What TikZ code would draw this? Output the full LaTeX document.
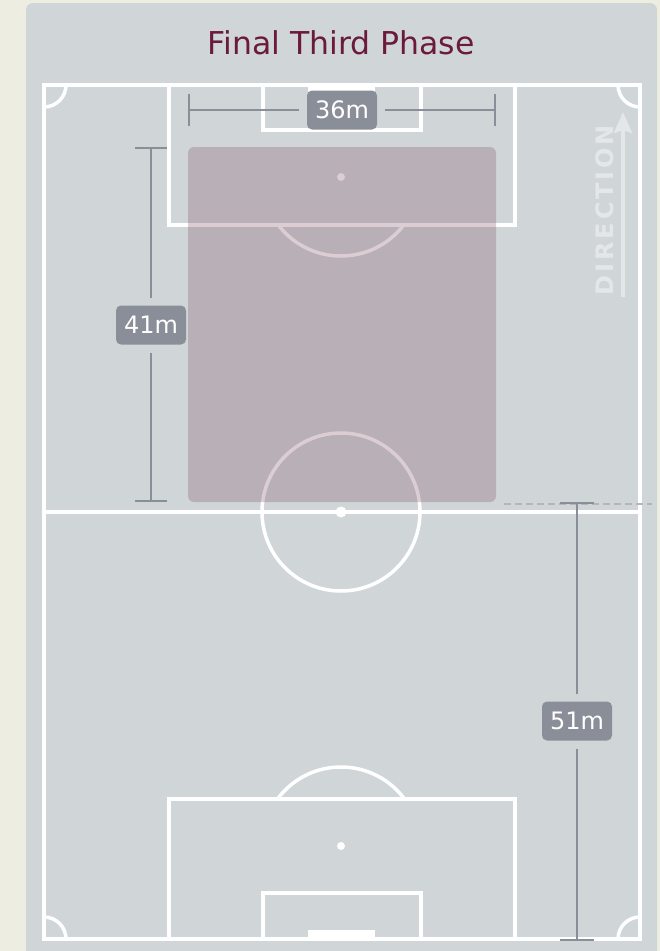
\documentclass[tikz,border=0pt]{standalone}
\usepackage{fontspec}
\setmainfont{DejaVu Sans}
\newfontfamily\dirfont[LetterSpace=12]{DejaVu Sans Bold}
\usetikzlibrary{arrows.meta}
\definecolor{cream}{RGB}{237,237,226}
\definecolor{panel}{RGB}{208,214,215}
\definecolor{titlecol}{RGB}{107,26,62}
\definecolor{dimgrey}{RGB}{138,142,152}
\definecolor{dashgrey}{RGB}{178,182,186}
\definecolor{shadecol}{RGB}{120,64,88}
\definecolor{dirwhite}{RGB}{228,231,232}
\begin{document}
\begin{tikzpicture}[x=1pt,y=-1pt,
  pitch/.style={draw=white,line width=3.5pt},
  dimline/.style={draw=dimgrey,line width=1.5pt},
  dimlabel/.style={fill=dimgrey,rounded corners=5pt,text=white,minimum width=70pt,minimum height=39pt,inner sep=0pt,outer sep=8pt,font=\fontsize{24}{26}\selectfont}]
\fill[cream] (0,0) rectangle (660,951);
\useasboundingbox (0,0) rectangle (660,951);
\fill[panel,rounded corners=7pt] (26,3) rectangle (657,990);
% pitch
\draw[pitch] (44,85) rectangle (640,939);
\draw[pitch] (44,512) -- (640,512);
\draw[pitch] (341,512) circle (79);
\fill[white] (341,512) circle (5.5);
\draw[pitch] (169,85) rectangle (515,225);
\draw[pitch] (263,85) rectangle (421,130);
\fill[white] (341,177) circle (4);
\fill[white] (308,85) rectangle (375,92);
\draw[pitch] (169,799) rectangle (515,939);
\draw[pitch] (263,893) rectangle (421,939);
\fill[white] (341,846) circle (4);
\fill[white] (308,930) rectangle (375,939);
\begin{scope}
  \clip (0,226) rectangle (660,400);
  \draw[pitch] (341,177) circle (79);
\end{scope}
\begin{scope}
  \clip (0,600) rectangle (660,798);
  \draw[pitch] (341,846) circle (79);
\end{scope}
\begin{scope}
  \clip (44,85) rectangle (640,939);
  \foreach \cx/\cy in {44/85,640/85,44/939,640/939}
    \draw[pitch] (\cx,\cy) circle (22);
\end{scope}
% shaded zone
\fill[shadecol,opacity=0.26,rounded corners=6pt] (188,147) rectangle (496,502);
% dashed reference line
\draw[dashgrey,line width=1.5pt,dash pattern=on 7pt off 4pt] (504,504) -- (652,504);
% width 36m
\node[dimlabel] (w) at (342,110) {36m};
\coordinate (wl) at (189,110);
\coordinate (wr) at (495,110);
\draw[dimline] (wl) -- (w.west);
\draw[dimline] (w.east) -- (wr);
\draw[dimline] ([yshift=16pt]wl) -- ([yshift=-16pt]wl);
\draw[dimline] ([yshift=16pt]wr) -- ([yshift=-16pt]wr);
% height 41m
\node[dimlabel] (h) at (151,325) {41m};
\coordinate (ht) at (151,148);
\coordinate (hb) at (151,501);
\draw[dimline] (ht) -- (h.north);
\draw[dimline] (h.south) -- (hb);
\draw[dimline] ([xshift=-16pt]ht) -- ([xshift=16pt]ht);
\draw[dimline] ([xshift=-16pt]hb) -- ([xshift=16pt]hb);
% distance 51m
\node[dimlabel] (d) at (577,721) {51m};
\coordinate (dt) at (577,503);
\coordinate (db) at (577,940);
\draw[dimline] (dt) -- (d.north);
\draw[dimline] (d.south) -- (db);
\draw[dimline] ([xshift=-17pt]dt) -- ([xshift=17pt]dt);
\draw[dimline] ([xshift=-17pt]db) -- ([xshift=17pt]db);
% direction
\node[rotate=90,text=dirwhite,inner sep=0pt,font=\dirfont\fontsize{24}{26}\selectfont] (dir) at (605,210) {DIRECTION};
\coordinate (as) at (623,297);
\coordinate (ae) at (623,112);
\draw[dirwhite,line width=4pt,-{Stealth[length=21pt,width=18pt,inset=3pt]}] (as) -- (ae);
% title
\node[text=titlecol,anchor=base,inner sep=0pt,font=\fontsize{31.5}{36}\selectfont] (title) at (341,54) {Final Third Phase};
\end{tikzpicture}
\end{document}
